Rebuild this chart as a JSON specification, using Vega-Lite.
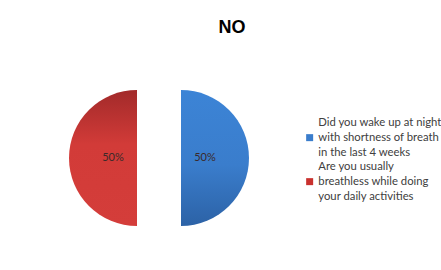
{
  "$schema": "https://vega.github.io/schema/vega-lite/v6.json",
  "autosize": {"type": "none"},
  "width": 278,
  "height": 224,
  "padding": {"left": 20, "top": 46, "right": 143, "bottom": 0},
  "background": "white",
  "config": {
    "view": {"stroke": null},
    "font": "Lato",
    "style": {"guide-label": {"lineHeight": 15}}
  },
  "title": {
    "text": "NO",
    "fontSize": 18,
    "fontWeight": "bold",
    "font": "Liberation Sans",
    "color": "#000000",
    "anchor": "middle",
    "dx": 73,
    "offset": 9
  },
  "data": {
    "values": [
      {"question": "Did you wake up at night with shortness of breath in the last 4 weeks", "share": 0.5, "order": 1},
      {"question": "Are you usually breathless while doing your daily activities", "share": 0.5, "order": 2}
    ]
  },
  "transform": [
    {"stack": "share", "groupby": [], "sort": [{"field": "order"}], "as": ["s0", "s1"]}
  ],
  "layer": [
    {
      "transform": [{"filter": "datum.order == 1"}],
      "mark": {"type": "arc", "outerRadius": 68, "xOffset": 22},
      "encoding": {
        "theta": {"field": "s0", "type": "quantitative", "scale": {"domain": [0, 1]}},
        "theta2": {"field": "s1"},
        "fill": {"value": {"gradient": "linear", "x1": 0, "y1": 0, "x2": 0, "y2": 1,
          "stops": [
            {"offset": 0, "color": "#3c84d6"},
            {"offset": 0.55, "color": "#3a7dcc"},
            {"offset": 1, "color": "#2c62a6"}
          ]}}
      }
    },
    {
      "transform": [{"filter": "datum.order == 2"}],
      "mark": {"type": "arc", "outerRadius": 68, "xOffset": -22},
      "encoding": {
        "theta": {"field": "s0", "type": "quantitative", "scale": {"domain": [0, 1]}},
        "theta2": {"field": "s1"},
        "fill": {"value": {"gradient": "linear", "x1": 0, "y1": 0, "x2": 0, "y2": 1,
          "stops": [
            {"offset": 0, "color": "#a22a2a"},
            {"offset": 0.4, "color": "#d23b38"},
            {"offset": 1, "color": "#d43d3a"}
          ]}}
      }
    },
    {
      "mark": {"type": "text", "radius": 46, "fontSize": 11, "font": "Lato", "color": "#3a2a2a"},
      "encoding": {
        "theta": {"field": "share", "type": "quantitative", "stack": true, "scale": {"domain": [0, 1]}},
        "order": {"field": "order", "type": "quantitative"},
        "text": {"field": "share", "type": "quantitative", "format": ".0%"},
        "detail": {"field": "question"}
      }
    },
    {
      "mark": {"type": "square", "size": 0, "opacity": 1},
      "encoding": {
        "color": {
          "field": "question",
          "type": "nominal",
          "sort": ["Did you wake up at night with shortness of breath in the last 4 weeks", "Are you usually breathless while doing your daily activities"],
          "scale": {"range": ["#3a7dcc", "#c9312e"]},
          "legend": {
            "orient": "none",
            "legendX": 284,
            "legendY": 86,
            "title": null,
            "symbolType": "square",
            "symbolSize": 49,
            "symbolOpacity": 1,
            "symbolStrokeWidth": 0,
            "labelFont": "Lato",
            "labelFontSize": 11.3,
            "labelColor": "#404040",
            "labelLimit": 300,
            "labelOffset": 3,
            "rowPadding": 2,
            "padding": 0,
            "labelExpr": "datum.label == 'Did you wake up at night with shortness of breath in the last 4 weeks' ? ['Did you wake up at night', 'with shortness of breath', 'in the last 4 weeks'] : ['Are you usually', 'breathless while doing', 'your daily activities']",
            "encode": {"labels": {"update": {"dy": {"value": -15}}}}
          }
        }
      }
    }
  ]
}
